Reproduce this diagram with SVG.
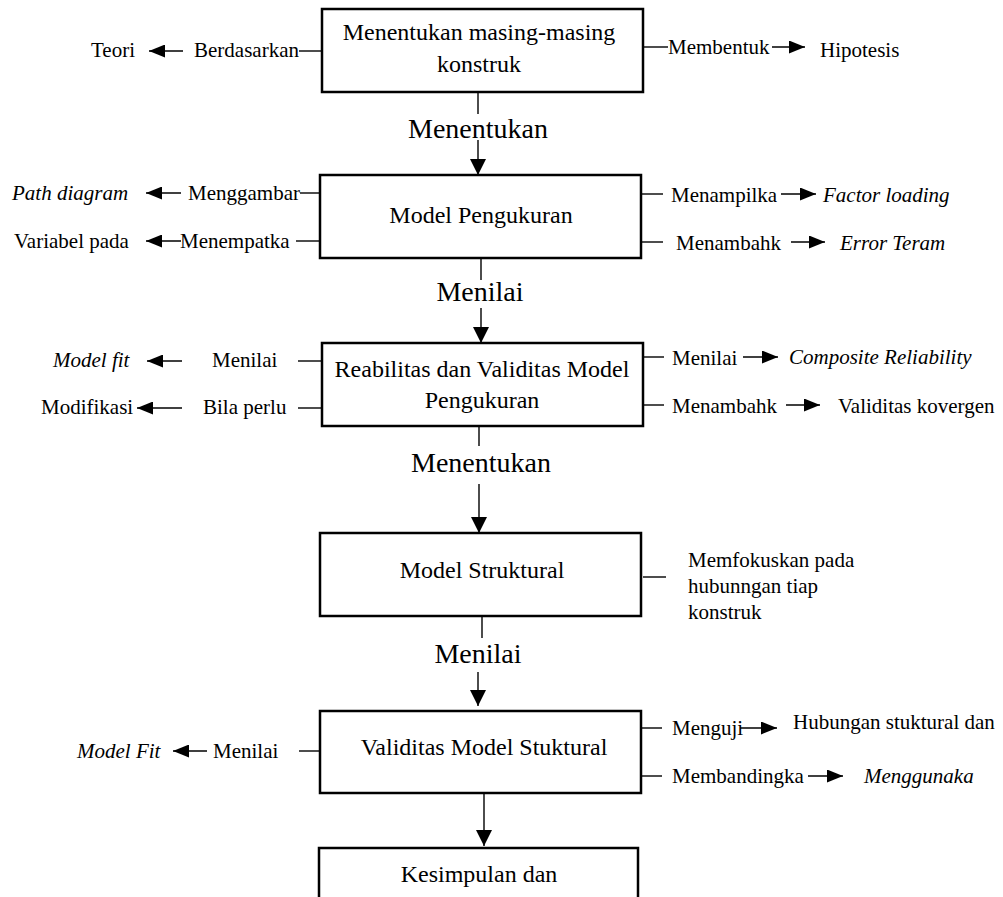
<svg xmlns="http://www.w3.org/2000/svg" width="1003" height="897" viewBox="0 0 1003 897" font-family="'Liberation Serif', 'DejaVu Serif', serif">
  <defs>
    <style>
      text { font-family: 'Liberation Serif', 'DejaVu Serif', serif; fill: #000; }
      .box rect { fill: #fff; stroke: #000; stroke-width: 2.5; }
      .bt { font-size: 24px; text-anchor: middle; }
      .lb { font-size: 21px; }
      .it { font-style: italic; }
      .flow { font-size: 28px; text-anchor: middle; }
      .ln { stroke: #000; stroke-width: 1.4; fill: none; }
      .ah { marker-end: url(#ah); }
      .av { marker-end: url(#av); }
    </style>
    <marker id="ah" viewBox="0 0 16 13" refX="16" refY="6.5" markerWidth="16" markerHeight="13" markerUnits="userSpaceOnUse" orient="auto">
      <path d="M0,0 L16,6.5 L0,13 Z" fill="#000"/>
    </marker>
    <marker id="av" viewBox="0 0 16 16" refX="16" refY="8" markerWidth="16" markerHeight="16" markerUnits="userSpaceOnUse" orient="auto">
      <path d="M0,0 L16,8 L0,16 Z" fill="#000"/>
    </marker>
  </defs>

  <rect width="1003" height="897" fill="#fff"/>

  <!-- main flow boxes -->
  <g id="n-konstruk" class="box">
    <rect x="322" y="9" width="321" height="83"/>
    <text class="bt" x="479" y="40">Menentukan masing-masing</text>
    <text class="bt" x="479" y="72">konstruk</text>
  </g>
  <g id="n-pengukuran" class="box">
    <rect x="320" y="175" width="321" height="83"/>
    <text class="bt" x="481" y="223">Model Pengukuran</text>
  </g>
  <g id="n-reabilitas" class="box">
    <rect x="322" y="343" width="321" height="83"/>
    <text class="bt" x="482" y="377">Reabilitas dan Validitas Model</text>
    <text class="bt" x="482" y="408">Pengukuran</text>
  </g>
  <g id="n-struktural" class="box">
    <rect x="320" y="533" width="321" height="83"/>
    <text class="bt" x="482" y="578">Model Struktural</text>
  </g>
  <g id="n-validitas" class="box">
    <rect x="320" y="711" width="321" height="82"/>
    <text class="bt" x="484" y="755">Validitas Model Stuktural</text>
  </g>
  <g id="n-kesimpulan" class="box">
    <rect x="319" y="848" width="319" height="80"/>
    <text class="bt" x="479" y="882">Kesimpulan dan</text>
  </g>

  <!-- side items -->
  <g id="n-teori"><text class="lb" x="91" y="57">Teori</text></g>
  <g id="n-hipotesis"><text class="lb" x="820" y="57">Hipotesis</text></g>
  <g id="n-path"><text class="lb it" x="12" y="200">Path diagram</text></g>
  <g id="n-variabel"><text class="lb" x="14" y="248">Variabel pada</text></g>
  <g id="n-factor"><text class="lb it" x="823" y="202">Factor loading</text></g>
  <g id="n-error"><text class="lb it" x="840" y="250">Error Teram</text></g>
  <g id="n-modelfit"><text class="lb it" x="53" y="367">Model fit</text></g>
  <g id="n-modifikasi"><text class="lb" x="41" y="414">Modifikasi</text></g>
  <g id="n-composite"><text class="lb it" x="789" y="364">Composite Reliability</text></g>
  <g id="n-kovergen"><text class="lb" x="838" y="413">Validitas kovergen</text></g>
  <g id="n-fokus">
    <text class="lb" x="688" y="567">Memfokuskan pada</text>
    <text class="lb" x="688" y="593">hubunngan tiap</text>
    <text class="lb" x="688" y="619">konstruk</text>
  </g>
  <g id="n-modelfit2"><text class="lb it" x="77" y="758">Model Fit</text></g>
  <g id="n-hubungan"><text class="lb" x="793" y="729">Hubungan stuktural dan</text></g>
  <g id="n-menggunaka"><text class="lb it" x="864" y="783">Menggunaka</text></g>

  <!-- connectors with their labels -->
  <g id="connectors">
    <!-- vertical flow -->
    <line class="ln" x1="478" y1="92" x2="478" y2="114"/>
    <text class="flow" x="478" y="138">Menentukan</text>
    <line class="ln av" x1="478" y1="140" x2="478" y2="175"/>

    <line class="ln" x1="481" y1="258" x2="481" y2="280"/>
    <text class="flow" x="480" y="301">Menilai</text>
    <line class="ln av" x1="481" y1="308" x2="481" y2="343"/>

    <line class="ln" x1="479" y1="426" x2="479" y2="446"/>
    <text class="flow" x="481" y="472">Menentukan</text>
    <line class="ln av" x1="479" y1="484" x2="479" y2="533"/>

    <line class="ln" x1="482" y1="616" x2="482" y2="638"/>
    <text class="flow" x="478" y="663">Menilai</text>
    <line class="ln av" x1="478" y1="672" x2="478" y2="706"/>

    <line class="ln av" x1="484" y1="793" x2="484" y2="846"/>

    <!-- box 1 sides -->
    <line class="ln" x1="299" y1="51" x2="322" y2="51"/>
    <text class="lb" x="194" y="57">Berdasarkan</text>
    <line class="ln ah" x1="183" y1="51" x2="149" y2="51"/>
    <line class="ln" x1="643" y1="47" x2="668" y2="47"/>
    <text class="lb" x="668" y="54">Membentuk</text>
    <line class="ln ah" x1="772" y1="47" x2="805" y2="47"/>

    <!-- box 2 sides -->
    <line class="ln" x1="300" y1="193" x2="320" y2="193"/>
    <text class="lb" x="188" y="200">Menggambar</text>
    <line class="ln ah" x1="181" y1="193" x2="146" y2="193"/>
    <line class="ln" x1="296" y1="241" x2="320" y2="241"/>
    <text class="lb" x="180" y="248">Menempatka</text>
    <line class="ln ah" x1="181" y1="241" x2="146" y2="241"/>
    <line class="ln" x1="641" y1="194" x2="663" y2="194"/>
    <text class="lb" x="671" y="202">Menampilka</text>
    <line class="ln ah" x1="781" y1="194" x2="816" y2="194"/>
    <line class="ln" x1="641" y1="242" x2="663" y2="242"/>
    <text class="lb" x="676" y="250">Menambahk</text>
    <line class="ln ah" x1="791" y1="242" x2="825" y2="242"/>

    <!-- box 3 sides -->
    <line class="ln" x1="298" y1="361" x2="322" y2="361"/>
    <text class="lb" x="212" y="367">Menilai</text>
    <line class="ln ah" x1="182" y1="361" x2="147" y2="361"/>
    <line class="ln" x1="298" y1="408" x2="322" y2="408"/>
    <text class="lb" x="203" y="414">Bila perlu</text>
    <line class="ln ah" x1="182" y1="408" x2="137" y2="408"/>
    <line class="ln" x1="643" y1="357" x2="664" y2="357"/>
    <text class="lb" x="672" y="365">Menilai</text>
    <line class="ln ah" x1="743" y1="357" x2="778" y2="357"/>
    <line class="ln" x1="643" y1="405" x2="664" y2="405"/>
    <text class="lb" x="672" y="413">Menambahk</text>
    <line class="ln ah" x1="786" y1="405" x2="820" y2="405"/>

    <!-- box 4 side -->
    <line class="ln" x1="643" y1="577" x2="666" y2="577"/>

    <!-- box 5 sides -->
    <line class="ln" x1="299" y1="751" x2="320" y2="751"/>
    <text class="lb" x="213" y="758">Menilai</text>
    <line class="ln ah" x1="207" y1="751" x2="173" y2="751"/>
    <line class="ln" x1="641" y1="728" x2="662" y2="728"/>
    <text class="lb" x="672" y="735">Menguji</text>
    <line class="ln ah" x1="740" y1="728" x2="777" y2="728"/>
    <line class="ln" x1="641" y1="776" x2="662" y2="776"/>
    <text class="lb" x="672" y="783">Membandingka</text>
    <line class="ln ah" x1="808" y1="776" x2="843" y2="776"/>
  </g>
</svg>
